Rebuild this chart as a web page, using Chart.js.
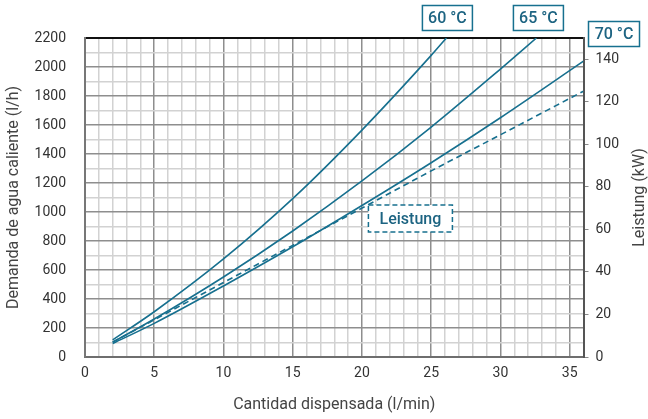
<!DOCTYPE html>
<html>
<head>
<meta charset="utf-8">
<script src="https://cdn.jsdelivr.net/npm/chart.js@4.4.1/dist/chart.umd.min.js"></script>
<style>
  html, body { margin: 0; padding: 0; background: #fff; }
  #wrap { width: 648px; height: 419px; }
</style>
</head>
<body>
<div id="wrap"><canvas id="chart"></canvas></div>
<script>
// values
const flow60 = [2, 5, 10, 15, 20, 25, 26.1];
const demand60 = [118, 312, 676, 1092, 1565, 2080, 2200];
const flow65 = [2, 5, 10, 15, 20, 25, 30, 32.6];
const demand65 = [102, 262, 552, 869, 1214, 1586, 1986, 2200];
const flow70 = [2, 5, 10, 15, 20, 25, 30, 36];
const demand70 = [93, 232, 490, 760, 1045, 1340, 1650, 2040];
const flowPower = [2, 5, 10, 15, 20, 25, 30, 36];
const power = [7, 17.5, 35, 52.5, 70, 87.5, 104.5, 125];

const xTickLabels = [0, 5, 10, 15, 20, 25, 30, 35];
const yTickLabels = [0, 200, 400, 600, 800, 1000, 1200, 1400, 1600, 1800, 2000, 2200];
const powerTickLabels = [0, 20, 40, 60, 80, 100, 120, 140];

const LINE = '#17708f';
const TEXT = '#1d6482';
const FONT = 'Roboto';

const pts = (xs, ys) => xs.map((v, i) => ({ x: v, y: ys[i] }));

const curveLabels = {
  id: 'curveLabels',
  afterDatasetsDraw(chart) {
    const { ctx, chartArea: a, scales: { x, y } } = chart;
    const box = (cx, cy, w, h, text, dashed) => {
      ctx.save();
      ctx.fillStyle = '#fff';
      ctx.fillRect(cx - w / 2, cy - h / 2, w, h);
      ctx.strokeStyle = LINE;
      ctx.lineWidth = 1.5;
      if (dashed) ctx.setLineDash([5, 3]);
      ctx.strokeRect(cx - w / 2, cy - h / 2, w, h);
      ctx.setLineDash([]);
      ctx.fillStyle = TEXT;
      ctx.font = '500 16px ' + FONT;
      ctx.textAlign = 'center';
      ctx.textBaseline = 'middle';
      ctx.fillText(text, cx, cy + 1);
      ctx.restore();
    };
    box(x.getPixelForValue(26.1) + 1, a.top - 20, 50, 25, '60 °C');
    box(x.getPixelForValue(32.6) + 2, a.top - 20, 50, 25, '65 °C');
    box(a.right + 30.5, a.top - 4, 51, 25, '70 °C');
    box(x.getPixelForValue(23.5), y.getPixelForValue(955), 84, 27, 'Leistung', true);

    // right axis title, reading bottom to top
    ctx.save();
    ctx.translate(a.right + 56, (a.top + a.bottom) / 2);
    ctx.rotate(-Math.PI / 2);
    ctx.fillStyle = '#444';
    ctx.font = '16px ' + FONT;
    ctx.textAlign = 'center';
    ctx.textBaseline = 'middle';
    ctx.fillText('Leistung (kW)', 0, 0);
    ctx.restore();
  }
};

const gridColor = (major, edge) => (c) => {
  const v = c.tick.value;
  if (edge(v)) return edge(v);
  return v % major === 0 ? '#8e8e8e' : '#d2d2d2';
};

new Chart(document.getElementById('chart'), {
  type: 'line',
  data: {
    datasets: [
      { label: '60 °C', data: pts(flow60, demand60), yAxisID: 'y' },
      { label: '65 °C', data: pts(flow65, demand65), yAxisID: 'y' },
      { label: '70 °C', data: pts(flow70, demand70), yAxisID: 'y' },
      { label: 'Leistung', data: pts(flowPower, power), yAxisID: 'y2', borderDash: [6, 4] }
    ].map(d => Object.assign({
      borderColor: LINE,
      borderWidth: 1.6,
      pointRadius: 0,
      fill: false,
      cubicInterpolationMode: 'monotone'
    }, d))
  },
  options: {
    responsive: true,
    maintainAspectRatio: false,
    animation: false,
    layout: { padding: { top: 38, left: 0, right: 0, bottom: 0 } },
    plugins: {
      legend: { display: false },
      tooltip: { enabled: false }
    },
    scales: {
      x: {
        type: 'linear',
        min: 0,
        max: 36,
        afterFit: s => { s.height = 62; },
        ticks: {
          stepSize: 1,
          autoSkip: false,
          maxRotation: 0,
          padding: 8,
          color: '#333',
          font: { family: FONT, size: 14 },
          callback: v => xTickLabels.includes(v) ? v : ''
        },
        grid: {
          drawTicks: false,
          lineWidth: 1.5,
          color: gridColor(5, v => (v === 0 || v === 36) ? '#6e6e6e' : null)
        },
        border: { display: true, color: '#6e6e6e', width: 2 },
        title: {
          display: true,
          text: 'Cantidad dispensada (l/min)',
          color: '#444',
          font: { family: FONT, size: 16 },
          padding: { top: 6 }
        }
      },
      y: {
        position: 'left',
        min: 0,
        max: 2200,
        afterFit: s => { s.width = 85; },
        ticks: {
          stepSize: 100,
          autoSkip: false,
          padding: 19,
          color: '#333',
          font: { family: FONT, size: 14 },
          callback: v => yTickLabels.includes(v) ? v : ''
        },
        grid: {
          drawTicks: false,
          lineWidth: c => c.tick.value === 2200 ? 2 : 1.5,
          color: gridColor(200, v => v === 2200 ? '#111' : (v === 0 ? '#6e6e6e' : null))
        },
        border: { display: true, color: '#777', width: 2 },
        title: {
          display: true,
          text: 'Demanda de agua caliente (l/h)',
          color: '#444',
          font: { family: FONT, size: 16 },
          padding: { bottom: 2 }
        }
      },
      y2: {
        position: 'right',
        min: 0,
        max: 150,
        afterFit: s => { s.width = 64.5; },
        ticks: {
          stepSize: 20,
          includeBounds: false,
          padding: 7,
          color: '#333',
          font: { family: FONT, size: 14 },
          callback: v => powerTickLabels.includes(v) ? v : ''
        },
        grid: {
          drawOnChartArea: false,
          tickLength: 5,
          color: '#888',
          lineWidth: 1
        },
        border: { display: true, color: '#555', width: 2 },
        title: { display: false }
      }
    }
  },
  plugins: [curveLabels]
});
</script>
</body>
</html>
